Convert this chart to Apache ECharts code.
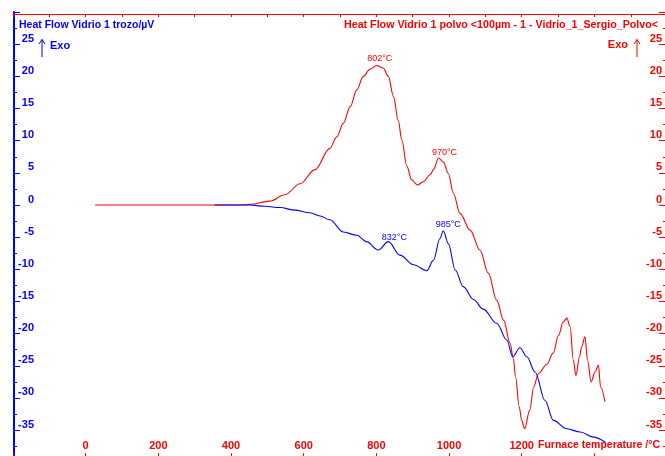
<!DOCTYPE html>
<html><head><meta charset="utf-8">
<script src="https://cdn.jsdelivr.net/npm/echarts@6/dist/echarts.min.js"></script>
<style>html,body{margin:0;padding:0;background:#fff}#c{width:665px;height:456px}</style>
</head><body><div id="c"></div>
<script>
// Red: Heat Flow Vidrio 1 polvo (right axis)
const redTemps = [26, 250, 424, 452, 507, 548, 590, 631, 672, 691, 709, 728, 746, 764, 782, 801, 819, 833, 847, 860, 870, 884, 897, 913, 929, 948, 957, 971, 984, 998, 1012, 1030, 1058, 1085, 1108, 1131, 1150, 1168, 1177, 1183, 1193, 1200, 1208, 1222, 1233, 1246, 1269, 1287, 1301, 1314, 1324, 1333, 1342, 1349, 1359, 1365, 1374, 1381, 1391, 1402, 1411, 1417, 1429];
const redValues = [0, 0, 0, 0.1, 0.6, 1.6, 3.3, 5.5, 8.8, 10.6, 12.7, 15.3, 17.9, 20.0, 21.1, 21.7, 21.3, 20.0, 16.9, 13.2, 10.1, 6.0, 3.9, 3.1, 3.6, 4.7, 5.5, 7.3, 6.7, 4.9, 1.8, -1.3, -3.9, -7.0, -10.6, -14.8, -17.9, -21.5, -23.9, -26.7, -31.4, -33.5, -34.8, -31.9, -28.3, -26.2, -24.8, -23.0, -20.3, -18.2, -17.6, -18.9, -24.1, -26.5, -23.6, -22.0, -20.5, -24.1, -27.5, -25.9, -24.9, -28.3, -30.6];
// Blue: Heat Flow Vidrio 1 trozo (left axis)
const blueTemps = [355, 424, 452, 493, 535, 576, 617, 645, 672, 709, 746, 773, 805, 833, 865, 902, 939, 957, 975, 984, 998, 1017, 1039, 1067, 1094, 1131, 1159, 1175, 1195, 1214, 1237, 1264, 1287, 1324, 1361, 1397, 1430];
const blueValues = [0, 0, 0, -0.2, -0.4, -0.8, -1.2, -1.7, -2.3, -4.2, -4.7, -5.7, -7.0, -5.7, -7.8, -9.3, -10.2, -8.6, -5.2, -4.0, -6.0, -10.1, -12.7, -14.7, -16.2, -18.4, -21.0, -23.6, -22.2, -23.6, -26.0, -30.4, -33.5, -34.8, -35.3, -36.1, -36.9];
// Peak annotations
const redPeaks = [[801, 21.7, '802°C'], [971, 7.3, '970°C']];
const bluePeaks = [[833, -5.7, '832°C'], [984, -4.0, '985°C']];
const xTickLabels = [0, 200, 400, 600, 800, 1000, 1200];
const yTickLabels = [25, 20, 15, 10, 5, 0, -5, -10, -15, -20, -25, -30, -35];

const RED = '#ff0000', BLUE = '#0000ff';
const FONT = '"Liberation Sans", Arial, sans-serif';
const zip = (a, b) => a.map((v, i) => [v, b[i]]);

const chart = echarts.init(document.getElementById('c'), null, {renderer: 'canvas'});

function yAxisCfg(pos, color, tickLen, margin) {
  return {
    type: 'value', position: pos, min: -40, max: 30, interval: 5,
    offset: pos === 'left' ? -1 : 0,
    axisLine: {show: true, onZero: false, lineStyle: {color: color, width: pos === 'left' ? 2 : 1}},
    axisTick: {show: true, inside: true, length: tickLen, lineStyle: {color: color, width: 1}},
    minorTick: {show: true, splitNumber: 2, length: 3, lineStyle: {color: color, width: 1}},
    splitLine: {show: false},
    axisLabel: {
      show: true, inside: true, margin: margin, align: 'right', verticalAlign: 'bottom',
      color: color, fontSize: 11, fontWeight: 'bold', fontFamily: FONT,
      formatter: v => (yTickLabels.indexOf(v) >= 0 ? String(v) : '')
    }
  };
}

const option = {
  animation: false,
  backgroundColor: '#fff',
  grid: {left: 13, top: 12.1, width: 653, height: 450.1, containLabel: false, outerBoundsMode: 'none'},
  xAxis: [
    {
      type: 'value', position: 'bottom', min: -200, max: 1597, interval: 200, offset: -4,
      axisLine: {show: true, onZero: false, lineStyle: {color: RED}},
      axisTick: {show: true, inside: true, length: 5, lineStyle: {color: RED}},
      splitLine: {show: false},
      axisLabel: {
        show: true, inside: true, margin: 7, color: RED, fontSize: 11, fontWeight: 'bold', fontFamily: FONT,
        formatter: v => (xTickLabels.indexOf(v) >= 0 ? String(v) : '')
      }
    },
    {
      type: 'value', position: 'top', min: -200, max: 1597, interval: 100, offset: -2,
      axisLine: {show: true, onZero: false, lineStyle: {color: RED, width: 1}},
      axisTick: {show: true, inside: true, length: 3, lineStyle: {color: RED}},
      splitLine: {show: false},
      axisLabel: {show: false}
    }
  ],
  yAxis: [yAxisCfg('left', BLUE, 6, 20), yAxisCfg('right', RED, 7, 4)],
  series: [
    {
      name: 'polvo', type: 'line', xAxisIndex: 0, yAxisIndex: 1,
      data: zip(redTemps, redValues), showSymbol: false, smooth: 0.35, smoothMonotone: 'x',
      lineStyle: {color: RED, width: 1.1}, itemStyle: {color: RED},
      markPoint: {
        symbolSize: 0,
        label: {show: true, color: RED, fontSize: 9, fontFamily: FONT},
        data: redPeaks.map((p, i) => ({coord: [p[0], p[1]], value: p[2],
          label: {formatter: p[2], offset: i === 0 ? [3, -7] : [6, -5.5]}}))
      }
    },
    {
      name: 'trozo', type: 'line', xAxisIndex: 0, yAxisIndex: 0,
      data: zip(blueTemps, blueValues), showSymbol: false, smooth: 0.35, smoothMonotone: 'x',
      lineStyle: {color: BLUE, width: 1.1}, itemStyle: {color: BLUE},
      markPoint: {
        symbolSize: 0,
        label: {show: true, color: BLUE, fontSize: 9, fontFamily: FONT},
        data: bluePeaks.map((p, i) => ({coord: [p[0], p[1]], value: p[2],
          label: {formatter: p[2], offset: i === 0 ? [6, -4] : [5, -6.5]}}))
      }
    }
  ],
  graphic: [
    {type: 'text', left: 19, top: 20, style: {text: 'Heat Flow Vidrio 1 trozo/µV', fill: BLUE, font: 'bold 10.5px ' + FONT}},
    {type: 'text', right: 7, top: 20, style: {text: 'Heat Flow Vidrio 1 polvo <100µm - 1 - Vidrio_1_Sergio_Polvo<', fill: RED, font: 'bold 10.7px ' + FONT}},
    {type: 'text', left: 50, top: 40, style: {text: 'Exo', fill: BLUE, font: 'bold 11px ' + FONT}},
    {type: 'text', right: 37, top: 39, style: {text: 'Exo', fill: RED, font: 'bold 11px ' + FONT}},
    {type: 'polyline', shape: {points: [[42, 57], [42, 39.5]]}, style: {stroke: BLUE, lineWidth: 1, fill: null}},
    {type: 'polyline', shape: {points: [[39, 44], [42, 39.5], [45, 44]]}, style: {stroke: BLUE, lineWidth: 1, fill: null}},
    {type: 'polyline', shape: {points: [[637, 57], [637, 39.5]]}, style: {stroke: RED, lineWidth: 1, fill: null}},
    {type: 'polyline', shape: {points: [[634, 44], [637, 39.5], [640, 44]]}, style: {stroke: RED, lineWidth: 1, fill: null}},
    {type: 'text', left: 538, top: 440, style: {text: 'Furnace temperature /°C', fill: RED, font: 'bold 10.5px ' + FONT}}
  ]
};
chart.setOption(option);
</script>
</body></html>
